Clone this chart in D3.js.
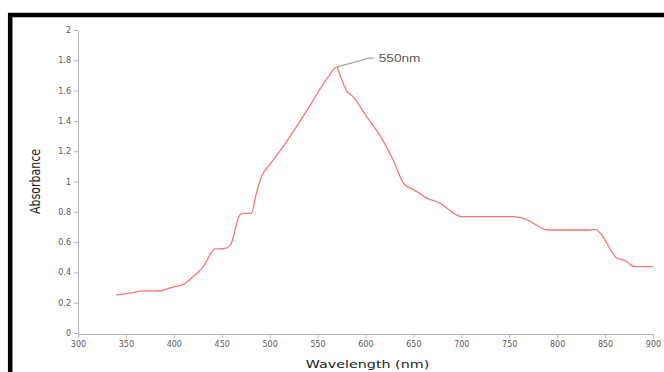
<!DOCTYPE html>
<html>
<head>
<meta charset="utf-8">
<script src="https://cdn.jsdelivr.net/npm/d3@7"></script>
<style>
  html, body { margin: 0; padding: 0; background: #fff; }
  svg { display: block; }
</style>
</head>
<body>
<script>
'use strict'

const width = 664
const height = 372
const margin = { top: 30, right: 11, bottom: 38, left: 78 }

// spectrum
const wavelength = [340, 355, 370, 385, 400, 410, 417, 431, 443, 452, 459, 469, 473, 481, 486, 492,
    500, 514, 539, 560, 570, 573, 580, 587, 601, 617, 629, 641, 650, 664, 678, 685, 700, 754,
    765, 791, 834, 840, 845, 862, 871, 881, 900]
const absorbance = [0.25, 0.265, 0.278, 0.279, 0.305, 0.32, 0.355, 0.44, 0.555, 0.556, 0.58, 0.78,
    0.79, 0.79, 0.92, 1.04, 1.11, 1.23, 1.47, 1.68, 1.755, 1.71, 1.60, 1.56, 1.43, 1.285, 1.14,
    0.977, 0.948, 0.889, 0.856, 0.823, 0.768, 0.768, 0.757, 0.68, 0.68, 0.684, 0.658, 0.497,
    0.477, 0.438, 0.438]
const xTicks = [300, 350, 400, 450, 500, 550, 600, 650, 700, 750, 800, 850, 900]
const yTicks = [0, 0.2, 0.4, 0.6, 0.8, 1, 1.2, 1.4, 1.6, 1.8, 2]
const peakLabel = '550nm'
const peakIndex = 20

const svg = d3.select('body').append('svg')
    .attr('width', width)
    .attr('height', height)

svg.append('rect').attr('width', width).attr('height', height).attr('fill', '#fff')

// thick black frame (only left and top visible)
svg.append('rect')
    .attr('x', 10.2).attr('y', 15)
    .attr('width', width + 20).attr('height', height + 20)
    .attr('fill', 'none')
    .attr('stroke', '#000')
    .attr('stroke-width', 4.5)

const x = d3.scaleLinear().domain([300, 900]).range([margin.left, width - margin.right])
const y = d3.scaleLinear().domain([0, 2]).range([height - margin.bottom - 1, margin.top])

const axisColor = '#b5b5b5'
const textColor = '#595959'

const xAxis = svg.append('g')
    .attr('transform', `translate(0,${height - margin.bottom})`)
    .call(d3.axisBottom(x).tickValues(xTicks).tickSize(4).tickPadding(3).tickSizeOuter(0))
xAxis.select('.domain').attr('stroke', axisColor)
xAxis.selectAll('line').attr('stroke', axisColor)
xAxis.selectAll('text')
    .attr('fill', textColor)
    .style('font-family', 'DejaVu Sans, Verdana, sans-serif')
    .style('font-size', '8px')

const yAxis = svg.append('g')
    .attr('transform', `translate(${margin.left},0)`)
    .call(d3.axisLeft(y).tickValues(yTicks).tickFormat(d => String(d)).tickSize(4).tickPadding(3).tickSizeOuter(0))
yAxis.select('.domain').attr('stroke', axisColor)
yAxis.selectAll('line').attr('stroke', axisColor)
yAxis.selectAll('text')
    .attr('fill', textColor)
    .style('font-family', 'DejaVu Sans, Verdana, sans-serif')
    .style('font-size', '8px')

// axis titles
svg.append('text')
    .attr('transform', `translate(${(x(300) + x(900)) / 2 + 2},368) scale(1.3,1)`)
    .attr('text-anchor', 'middle')
    .attr('fill', '#222')
    .style('font-family', 'DejaVu Sans, sans-serif')
    .style('font-size', '11px')
    .text('Wavelength (nm)')

svg.append('text')
    .attr('transform', `translate(40,${(y(0) + y(2)) / 2}) scale(1.3,1) rotate(-90)`)
    .attr('text-anchor', 'middle')
    .attr('fill', '#222')
    .style('font-family', 'DejaVu Sans, sans-serif')
    .style('font-size', '11px')
    .text('Absorbance')

// spectrum
const pts = wavelength.map((w, i) => [w, absorbance[i]])
const line = d3.line()
    .x(d => x(d[0]))
    .y(d => y(d[1]))
    .curve(d3.curveMonotoneX)

svg.append('path')
    .datum(pts)
    .attr('fill', 'none')
    .attr('stroke', '#ff7373')
    .attr('stroke-width', 1.3)
    .attr('d', line)

// peak annotation
const px = x(wavelength[peakIndex])
const py = y(absorbance[peakIndex])
svg.append('path')
    .attr('d', `M${px},${py}L${px + 32},${py - 9}L${px + 37},${py - 9}`)
    .attr('fill', 'none')
    .attr('stroke', '#a6a6a6')
    .attr('stroke-width', 1.2)

svg.append('text')
    .attr('transform', `translate(${px + 42},${py - 5}) scale(1.3,1)`)
    .attr('fill', textColor)
    .style('font-family', 'Liberation Sans, Arial, sans-serif')
    .style('font-size', '10.5px')
    .text(peakLabel)
</script>
</body>
</html>
